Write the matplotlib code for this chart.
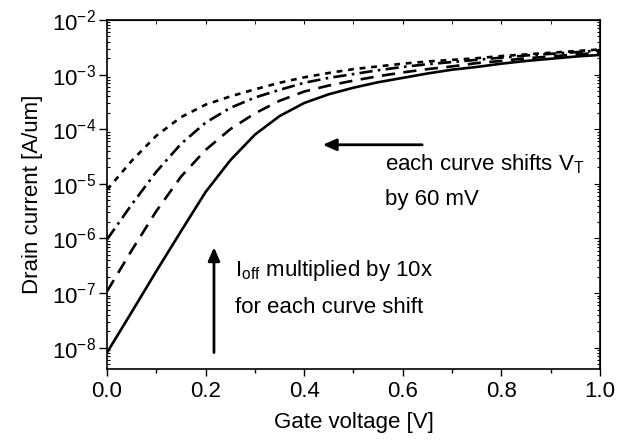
import numpy as np
import matplotlib
matplotlib.use('Agg')
import matplotlib.pyplot as plt

plt.rcParams['font.family'] = ['Liberation Sans', 'DejaVu Sans']
plt.rcParams['mathtext.fontset'] = 'custom'
plt.rcParams['mathtext.rm'] = 'Liberation Sans'
plt.rcParams['mathtext.it'] = 'Liberation Sans:italic'
plt.rcParams['axes.unicode_minus'] = False

# gate voltage [V]
vg = [0.00, 0.05, 0.10, 0.15, 0.20, 0.25, 0.30, 0.35, 0.40, 0.45, 0.50,
      0.55, 0.60, 0.65, 0.70, 0.75, 0.80, 0.85, 0.90, 0.95, 1.00]

# log10 of drain current [A/um]
log_id_solid = [-8.09, -7.35, -6.60, -5.87, -5.15, -4.57, -4.10, -3.76, -3.52, -3.36, -3.24,
                -3.14, -3.06, -2.98, -2.91, -2.86, -2.80, -2.75, -2.71, -2.67, -2.64]
log_id_dashed = [-6.97, -6.22, -5.50, -4.87, -4.38, -4.00, -3.71, -3.48, -3.31, -3.20, -3.11,
                 -3.03, -2.96, -2.90, -2.85, -2.79, -2.75, -2.70, -2.67, -2.63, -2.60]
log_id_dashdot = [-6.02, -5.38, -4.78, -4.27, -3.88, -3.61, -3.42, -3.28, -3.15, -3.06, -2.99,
                  -2.92, -2.86, -2.81, -2.77, -2.73, -2.69, -2.65, -2.62, -2.59, -2.56]
log_id_dotted = [-5.11, -4.58, -4.12, -3.78, -3.55, -3.40, -3.27, -3.15, -3.05, -2.97, -2.90,
                 -2.85, -2.80, -2.76, -2.73, -2.70, -2.66, -2.63, -2.60, -2.57, -2.54]

vg = np.array(vg)
fig = plt.figure(figsize=(6.17, 4.42), dpi=100)
ax = fig.add_axes([0.1734, 0.1652, 0.7990, 0.7896])

lw = 1.9
ax.plot(vg, 10 ** np.array(log_id_solid), color='black', lw=lw, linestyle='-')
ax.plot(vg, 10 ** np.array(log_id_dashed), color='black', lw=lw, linestyle=(0, (5, 3.2)))
ax.plot(vg, 10 ** np.array(log_id_dashdot), color='black', lw=lw, linestyle=(0, (5, 2, 1, 2)))
ax.plot(vg, 10 ** np.array(log_id_dotted), color='black', lw=lw, linestyle=(0, (2.2, 2.2)))

ax.set_yscale('log')
ax.set_xlim(0, 1.0)
ax.set_ylim(10 ** -8.39, 1e-2)
ax.set_xticks(np.arange(0, 1.01, 0.2))
ax.set_xticks(np.arange(0.1, 1.0, 0.2), minor=True)
ax.set_xticklabels(['0.0', '0.2', '0.4', '0.6', '0.8', '1.0'])
ax.set_yticks([10.0 ** e for e in range(-8, -1)])

fs = 16
ax.tick_params(axis='x', which='major', direction='out', length=5, width=1, labelsize=fs, pad=4)
ax.tick_params(axis='x', which='minor', direction='out', length=3, width=1)
ax.tick_params(axis='y', which='major', direction='out', length=6, width=1, labelsize=fs, pad=2)
ax.tick_params(axis='y', which='minor', direction='in', length=2, width=0.8)
for s in ax.spines.values():
    s.set_linewidth(1.2)

# top and right axes with inward ticks, no labels
top = ax.secondary_xaxis('top')
top.set_xticks(np.arange(0, 1.01, 0.2))
top.set_xticks(np.arange(0.1, 1.0, 0.2), minor=True)
top.tick_params(which='both', direction='in', length=3, labeltop=False)
right = ax.secondary_yaxis('right')
right.set_yticks([10.0 ** e for e in range(-8, -1)])
right.tick_params(which='major', direction='in', length=4, labelright=False)
right.tick_params(which='minor', direction='in', length=2, width=0.8, labelright=False)

ax.set_xlabel('Gate voltage [V]', fontsize=fs, labelpad=7)
ax.set_ylabel('Drain current [A/um]', fontsize=fs, labelpad=6)

arrow = dict(arrowstyle='-|>,head_length=0.8,head_width=0.35', color='black', lw=2)
ax.annotate('', xy=(0.432, 10 ** -4.285), xytext=(0.645, 10 ** -4.285), arrowprops=arrow)
ax.annotate('', xy=(0.217, 10 ** -6.11), xytext=(0.217, 10 ** -8.14), arrowprops=arrow)

ax.text(0.564, 10 ** -4.64, r'each curve shifts V$_\mathregular{T}$', fontsize=fs, va='center')
ax.text(0.564, 10 ** -5.28, 'by 60 mV', fontsize=fs, va='center')
ax.text(0.26, 10 ** -6.58, r'I$_\mathregular{off}$ multiplied by 10x', fontsize=fs, va='center')
ax.text(0.26, 10 ** -7.27, 'for each curve shift', fontsize=fs, va='center')

fig.savefig('out.png', dpi=100)
